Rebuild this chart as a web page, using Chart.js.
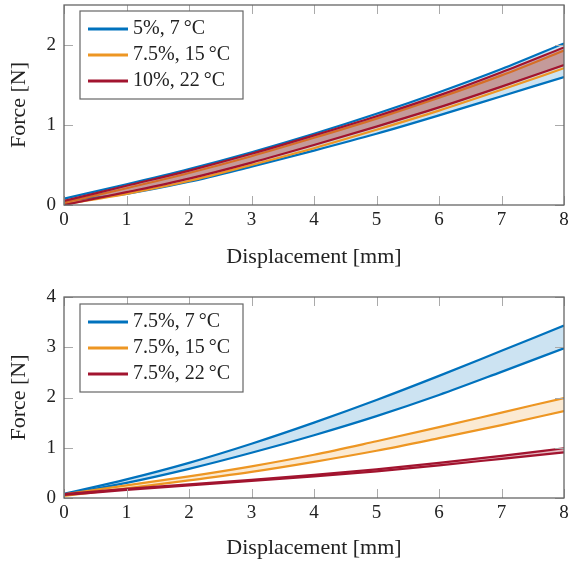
<!DOCTYPE html>
<html>
<head>
<meta charset="utf-8">
<script src="https://cdn.jsdelivr.net/npm/chart.js@4.4.1/dist/chart.umd.min.js"></script>
<style>
  body { margin: 0; background: #fff; }
  canvas { position: absolute; left: 0; }
  #top { top: 0; }
  #bottom { top: 283px; }
</style>
</head>
<body>
<canvas id="top" width="569" height="280"></canvas>
<canvas id="bottom" width="569" height="283"></canvas>
<script>
// displacement [mm]
const disp = [0, 1, 2, 3, 4, 5, 6, 7, 8]

// upper chart: concentration + temperature
const topLabels = ['5%, 7\u2009°C', '7.5%, 15\u2009°C', '10%, 22\u2009°C']
const topBlueHi   = [0.08, 0.26, 0.45, 0.66, 0.89, 1.14, 1.41, 1.70, 2.02]
const topBlueLo   = [0.05, 0.14, 0.29, 0.48, 0.68, 0.89, 1.12, 1.36, 1.60]
const topOrangeHi = [0.03, 0.21, 0.40, 0.61, 0.84, 1.08, 1.34, 1.62, 1.93]
const topOrangeLo = [0.01, 0.14, 0.30, 0.50, 0.71, 0.94, 1.18, 1.44, 1.71]
const topRedHi    = [0.05, 0.24, 0.43, 0.64, 0.87, 1.11, 1.37, 1.66, 1.97]
const topRedLo    = [0.00, 0.16, 0.33, 0.53, 0.75, 0.98, 1.22, 1.48, 1.75]

// lower chart: 7.5% at three temperatures
const botLabels = ['7.5%, 7\u2009°C', '7.5%, 15\u2009°C', '7.5%, 22\u2009°C']
const botBlueHi   = [0.08, 0.37, 0.70, 1.08, 1.50, 1.95, 2.43, 2.93, 3.43]
const botBlueLo   = [0.07, 0.30, 0.58, 0.90, 1.25, 1.63, 2.05, 2.51, 2.98]
const botOrangeHi = [0.07, 0.25, 0.43, 0.63, 0.86, 1.13, 1.41, 1.70, 1.99]
const botOrangeLo = [0.04, 0.19, 0.35, 0.52, 0.72, 0.94, 1.19, 1.45, 1.73]
const botRedHi    = [0.08, 0.18, 0.27, 0.36, 0.46, 0.57, 0.70, 0.84, 0.99]
const botRedLo    = [0.06, 0.16, 0.25, 0.34, 0.43, 0.53, 0.65, 0.78, 0.91]

const colors = ['rgb(162,20,47)', 'rgb(237,150,35)', 'rgb(0,114,189)']
const fills = ['rgba(162,20,47,0.3)', 'rgba(237,150,35,0.2)', 'rgba(0,114,189,0.2)']
const FONT = '"Liberation Serif", "Times New Roman", serif'

function pts(arr) {
  return arr.map((v, i) => ({x: disp[i], y: v}))
}

// red first so it is drawn on top
function bands(red, orange, blue) {
  const sets = []
  ;[red, orange, blue].forEach((b, k) => {
    sets.push({data: pts(b[0]), borderColor: colors[k], borderWidth: 2.2, fill: false})
    sets.push({data: pts(b[1]), borderColor: colors[k], borderWidth: 2.2, fill: '-1', backgroundColor: fills[k]})
  })
  return sets
}

// frame, inward ticks and boxed legend like pgfplots
const framePlugin = {
  id: 'frame',
  afterDatasetsDraw(chart, args, opts) {
    const {ctx, chartArea: a, scales: {x, y}} = chart
    ctx.save()
    ctx.strokeStyle = '#aaa'
    ctx.lineWidth = 1
    ctx.beginPath()
    x.ticks.forEach(t => {
      const px = Math.round(x.getPixelForValue(t.value)) + 0.5
      ctx.moveTo(px, a.bottom); ctx.lineTo(px, a.bottom - 9)
      ctx.moveTo(px, a.top); ctx.lineTo(px, a.top + 9)
    })
    y.ticks.forEach(t => {
      const py = Math.round(y.getPixelForValue(t.value)) + 0.5
      ctx.moveTo(a.left, py); ctx.lineTo(a.left + 9, py)
      ctx.moveTo(a.right, py); ctx.lineTo(a.right - 9, py)
    })
    ctx.stroke()
    ctx.strokeStyle = '#666'
    ctx.lineWidth = 1.3
    ctx.strokeRect(a.left, a.top, a.right - a.left, a.bottom - a.top)

    // legend
    const bx = a.left + 16, by = a.top + opts.dy
    ctx.font = '20px ' + FONT
    const tw = Math.max(...opts.labels.map(l => ctx.measureText(l).width))
    const bw = 56 + tw + 10, bh = 88
    ctx.fillStyle = '#fff'
    ctx.fillRect(bx, by, bw, bh)
    ctx.strokeStyle = '#666'
    ctx.lineWidth = 1.2
    ctx.strokeRect(bx, by, bw, bh)
    const order = [2, 1, 0]
    opts.labels.forEach((l, i) => {
      const ry = by + 18 + i * 26
      ctx.strokeStyle = colors[order[i]]
      ctx.lineWidth = 3
      ctx.beginPath()
      ctx.moveTo(bx + 8, ry); ctx.lineTo(bx + 48, ry)
      ctx.stroke()
      ctx.fillStyle = '#222'
      ctx.textBaseline = 'middle'
      ctx.fillText(l, bx + 53, ry)
    })
    ctx.restore()
  }
}

function makeChart(id, datasets, yMax, labels, g) {
  return new Chart(document.getElementById(id), {
    type: 'line',
    data: {datasets: datasets},
    plugins: [framePlugin],
    options: {
      responsive: false,
      animation: false,
      layout: {padding: {top: g.padTop, right: 5, left: 0, bottom: 0}},
      elements: {point: {radius: 0}, line: {cubicInterpolationMode: 'monotone'}},
      plugins: {
        legend: {display: false},
        tooltip: {enabled: false},
        frame: {labels: labels, dy: g.legendDy}
      },
      scales: {
        x: {
          type: 'linear', min: 0, max: 8,
          grid: {display: false, drawTicks: false},
          border: {display: false},
          ticks: {stepSize: 1, padding: 4, color: '#222', font: {family: FONT, size: 19}},
          title: {display: true, text: 'Displacement [mm]', color: '#222',
            font: {family: FONT, size: 22}, padding: {top: 0, bottom: g.titlePad}},
          afterFit(s) {
            s.height = g.xHeight
            s.paddingLeft = 0
            s.paddingRight = 0
          }
        },
        y: {
          min: 0, max: yMax,
          grid: {display: false, drawTicks: false},
          border: {display: false},
          ticks: {stepSize: 1, includeBounds: false, padding: 8, color: '#222', font: {family: FONT, size: 19}},
          title: {display: true, text: 'Force [N]', color: '#222',
            font: {family: FONT, size: 22}, padding: {top: 6, bottom: 0}},
          afterFit(s) {
            s.width = 64
            s.paddingTop = 0
            s.paddingBottom = 0
          }
        }
      }
    }
  })
}

document.addEventListener('DOMContentLoaded', function() {
  makeChart('top',
    bands([topRedHi, topRedLo], [topOrangeHi, topOrangeLo], [topBlueHi, topBlueLo]),
    2.5, topLabels, {padTop: 5, xHeight: 75, titlePad: 10, legendDy: 6})

  makeChart('bottom',
    bands([botRedHi, botRedLo], [botOrangeHi, botOrangeLo], [botBlueHi, botBlueLo]),
    4, botLabels, {padTop: 14, xHeight: 68, titlePad: 5, legendDy: 7})
})
</script>
</body>
</html>
